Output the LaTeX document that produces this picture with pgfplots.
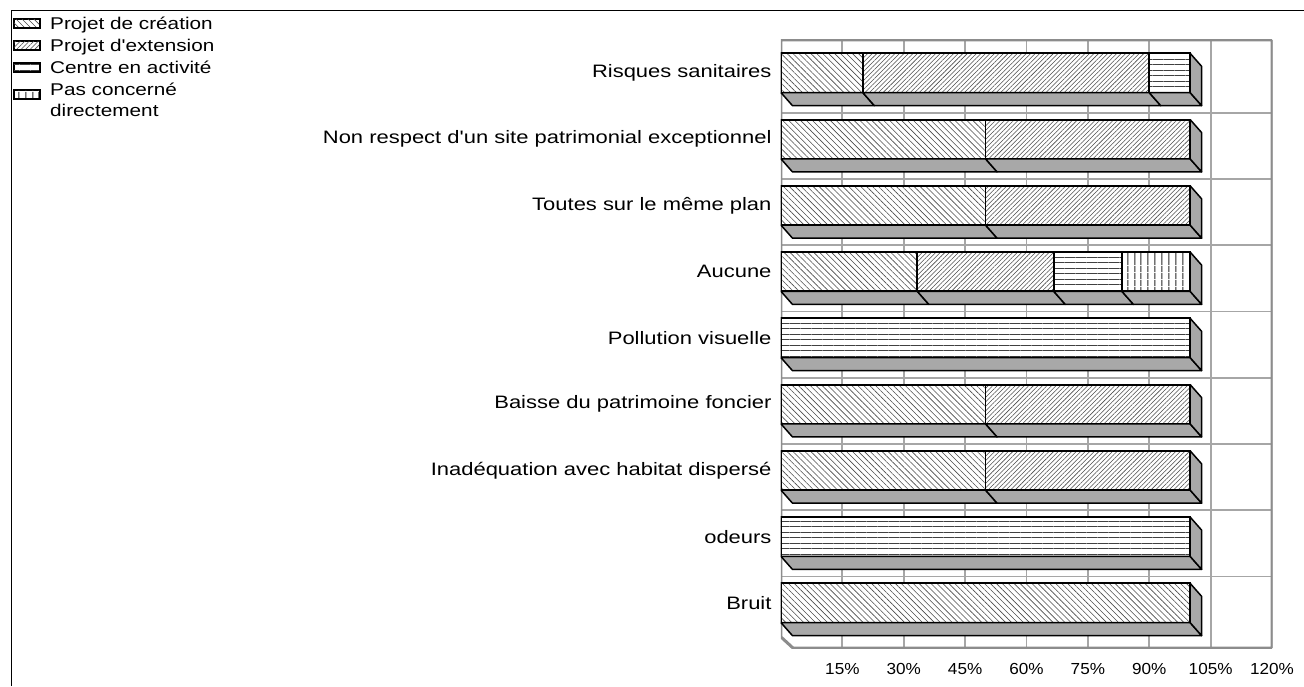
\documentclass[border=0pt]{standalone}
\usepackage{fontspec}
\setmainfont{Liberation Sans}
\newfontfamily\labfam{Liberation Sans}[FakeStretch=1.22]
\newfontfamily\tickfam{Liberation Sans}[FakeStretch=1.07]
\usepackage{pgfplots}
\pgfplotsset{compat=1.18}
\usepackage{pgfplotstable}
\usetikzlibrary{patterns.meta}
\definecolor{wallc}{HTML}{8C8C8C}
\definecolor{gridc}{HTML}{A6A6A6}
\definecolor{facec}{HTML}{A8A8A8}
\newcommand\lstrut{\rule[-5.5pt]{0pt}{20pt}}

\pgfplotstableread{
c cre ext cen pas
0 100 0 0 0
1 0 0 100 0
2 50 50 0 0
3 50 50 0 0
4 0 0 100 0
5 33.33 33.33 16.67 16.67
6 50 50 0 0
7 50 50 0 0
8 20 70 10 0
}\data

% bottom face of a bar segment [#1,#2] of category #3
\newcommand\bface[3]{%
 \pgfmathsetmacro\fya{#3-0.2965}%
 \pgfmathsetmacro\fyb{#3-0.4925}%
 \pgfmathsetmacro\fxa{#1+2.8}%
 \pgfmathsetmacro\fxb{#2+2.8}%
 \edef\tmp{\noexpand\addplot[face] coordinates {(#1,\fya) (#2,\fya) (\fxb,\fyb) (\fxa,\fyb) (#1,\fya)};}\tmp}
% right face of the bar of category #1 (end at 100)
\newcommand\rface[1]{%
 \pgfmathsetmacro\fya{#1+0.2965}%
 \pgfmathsetmacro\fyb{#1-0.2965}%
 \pgfmathsetmacro\fyc{#1-0.4925}%
 \pgfmathsetmacro\fyd{#1+0.1005}%
 \edef\tmp{\noexpand\addplot[face] coordinates {(100,\fya) (100,\fyb) (102.8,\fyc) (102.8,\fyd) (100,\fya)};}\tmp}

\begin{document}
\begin{tikzpicture}
\useasboundingbox (0pt,0pt) rectangle (1304pt,686pt);
\draw[black, line width=1pt] (11pt,0pt) -- (11pt,675pt) -- (1304pt,675pt);
\begin{axis}[
  at={(781pt,38pt)}, anchor=south west,
  scale only axis, width=491pt, height=608pt,
  xmin=0, xmax=120, ymin=-0.679, ymax=8.498,
  axis line style={draw=none},
  no markers,
  xtick={15,30,45,60,75,90,105,120},
  xticklabels={15\%,30\%,45\%,60\%,75\%,90\%,105\%,120\%},
  ytick={0,1,2,3,4,5,6,7,8},
  yticklabels={Bruit,odeurs,Inadéquation avec habitat dispersé,Baisse du patrimoine foncier,Pollution visuelle,Aucune,Toutes sur le même plan,Non respect d'un site patrimonial exceptionnel,Risques sanitaires},
  major tick length=0pt,
  xmajorgrids,
  major grid style={draw=gridc, line width=1.8pt},
  extra y ticks={0.4,1.4,2.4,3.4,4.4,5.4,6.4,7.4},
  extra y tick labels={},
  extra y tick style={grid=major},
  xticklabel style={font=\tickfam\fontsize{16}{18}\selectfont, yshift=-12pt},
  yticklabel style={font=\labfam\fontsize{18}{20}\selectfont, xshift=-6pt},
  bar width=0.593,
  legend cell align=left,
  legend style={at={(-1.5642,1.0426)}, anchor=north west, draw=none, fill=none,
    inner sep=0pt, row sep=4pt, column sep=9pt,
    font=\labfam\fontsize{17}{20}\selectfont, nodes={inner sep=1pt}},
  seg/.style={xbar stacked, draw=black, line width=1.8pt, preaction={fill=white},
    legend image code/.code={\draw[##1,line width=1pt] (0pt,-4.5pt) rectangle (26pt,4.5pt);}},
  face/.style={forget plot, fill=facec, draw=black, line width=1.5pt, line join=round, mark=none},
]
\draw[wallc, line width=3pt, line join=round] (rel axis cs:0,0.0181) -- (rel axis cs:0,1) -- (rel axis cs:1,1) -- (rel axis cs:1,0) -- (rel axis cs:0.0244,0) -- cycle;

\addplot[seg, pattern={Lines[angle=-45,distance=4.2pt,line width=0.6pt]}, pattern color=black!70] table[x=cre,y=c]{\data};
\addlegendentry{\lstrut Projet de création}
\addplot[seg, pattern={Lines[angle=45,distance=3.2pt,line width=0.55pt]}, pattern color=black!70] table[x=ext,y=c]{\data};
\addlegendentry{\lstrut Projet d'extension}
\addplot[seg, pattern={Lines[angle=0,distance=5.5pt,line width=0.8pt]}, pattern color=black!75] table[x=cen,y=c]{\data};
\addlegendentry{\lstrut Centre en activité}
\addplot[seg, pattern={Lines[angle=90,distance=6.5pt,line width=1pt]}, pattern color=black!85] table[x=pas,y=c]{\data};
\addlegendentry{\begin{tabular}{@{}l@{}}\lstrut Pas concerné\\\lstrut directement\end{tabular}}

\bface{0}{20}{8}\bface{20}{90}{8}\bface{90}{100}{8}
\bface{0}{50}{7}\bface{50}{100}{7}
\bface{0}{50}{6}\bface{50}{100}{6}
\bface{0}{33.33}{5}\bface{33.33}{66.67}{5}\bface{66.67}{83.33}{5}\bface{83.33}{100}{5}
\bface{0}{100}{4}
\bface{0}{50}{3}\bface{50}{100}{3}
\bface{0}{50}{2}\bface{50}{100}{2}
\bface{0}{100}{1}
\bface{0}{100}{0}
\rface{8}\rface{7}\rface{6}\rface{5}\rface{4}\rface{3}\rface{2}\rface{1}\rface{0}
\end{axis}
\end{tikzpicture}
\end{document}
